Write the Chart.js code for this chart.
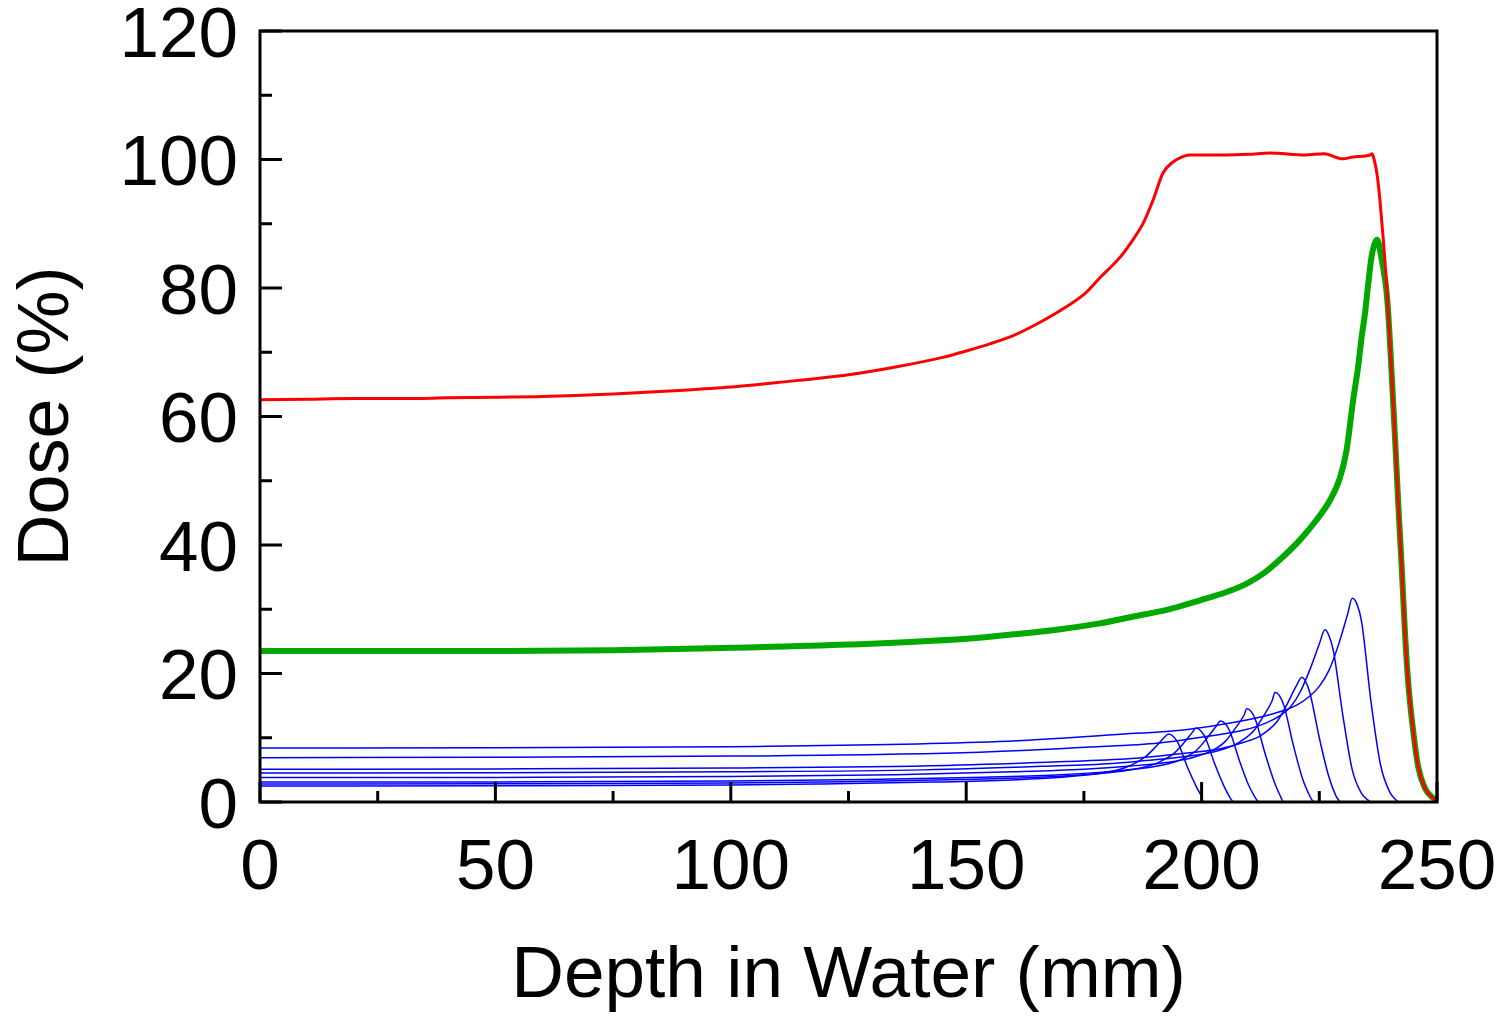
<!DOCTYPE html>
<html>
<head>
<meta charset="utf-8">
<script src="https://cdn.jsdelivr.net/npm/chart.js@4.4.1/dist/chart.umd.min.js"></script>
<style>
  html, body { margin: 0; padding: 0; background: #ffffff; }
  #wrap { width: 1511px; height: 1017px; }
</style>
</head>
<body>
<div id="wrap"><canvas id="c" width="1511" height="1017"></canvas></div>
<script>
// ---- axis ticks ----
const xTickValues = [0, 50, 100, 150, 200, 250];
const yTickValues = [0, 20, 40, 60, 80, 100, 120];
const xMinorTicks = [25, 75, 125, 175, 225];
const yMinorTicks = [10, 30, 50, 70, 90, 110];

// ---- SOBP (red) ----
const sobpDepth = [0, 10, 20, 30, 40, 50, 60, 75, 90, 100, 110, 125, 135, 145, 150, 155, 160, 165, 170, 175, 178.4, 182.7, 185.4, 187.6, 189.7, 191.8, 193.9, 195.5, 197.5, 205, 210, 214.5, 222, 226, 230, 232.2, 235.8, 236.2, 236.8, 237.3, 237.9, 238.6, 239.2, 239.7, 240.2, 240.7, 241.2, 241.8, 242.5, 243.2, 243.9, 245, 246, 247.4, 249.2, 250];
const sobpDose  = [62.6, 62.7, 62.8, 62.8, 62.9, 63.0, 63.1, 63.5, 64.1, 64.6, 65.3, 66.5, 67.7, 69.2, 70.2, 71.3, 72.6, 74.4, 76.5, 79.0, 81.6, 84.8, 87.5, 90.1, 93.7, 97.9, 99.6, 100.3, 100.7, 100.7, 100.8, 101.0, 100.7, 100.9, 100.1, 100.4, 100.7, 100.9, 99.5, 97.5, 93.5, 87.5, 81.5, 75.5, 69.0, 62.0, 55.0, 46.0, 36.6, 26.3, 18.5, 10.7, 5.5, 2.2, 0.6, 0.2];

// ---- Pristine peak (green) ----
const peakDepth = [0, 20, 50, 75, 100, 125, 150, 160, 170, 178.4, 185, 192.6, 199.7, 205, 209.6, 213, 216.6, 220.9, 224.4, 227.3, 229.4, 230.8, 232.2, 233.2, 234, 234.7, 235.4, 236.1, 236.7, 237.2, 237.6, 238.0, 238.6, 239.2, 239.7, 240.2, 240.7, 241.2, 241.8, 242.5, 243.2, 243.9, 245, 246, 247.4, 249.2, 250];
const peakDose  = [23.5, 23.5, 23.5, 23.6, 24.0, 24.5, 25.4, 26.1, 26.9, 27.8, 28.8, 29.9, 31.4, 32.6, 34.0, 35.5, 37.7, 40.8, 43.9, 47.0, 50.5, 54.8, 62.6, 67.5, 72.4, 76.0, 80.7, 84.9, 86.8, 87.5, 87.0, 85.5, 83.0, 80.0, 75.5, 69.0, 62.0, 55.0, 46.0, 36.6, 26.3, 18.5, 10.7, 5.5, 2.2, 0.6, 0.2];

// ---- Weighted pristine peaks (blue) ----
const blue1Depth = [0, 50, 100, 157, 182, 197, 207, 215, 220, 223, 225, 227, 229, 231, 232, 233, 234, 236, 238, 240, 241.7];
const blue1Dose  = [8.4, 8.45, 8.6, 9.4, 10.5, 11.3, 12.4, 13.7, 15.0, 16.5, 18.0, 20.4, 24.3, 29.2, 31.7, 30.8, 28.0, 15.5, 5.8, 1.5, 0];
const blue2Depth = [0, 50, 100, 151, 176, 191, 201, 209, 214, 217, 219, 221, 223, 225, 226.2, 227, 228, 230, 232, 234, 235.8];
const blue2Dose  = [6.9, 6.95, 7.15, 7.7, 8.55, 9.2, 10.2, 11.2, 12.4, 13.6, 14.9, 17.2, 20.6, 24.6, 26.8, 26.0, 23.5, 13.5, 5.0, 1.3, 0];
const blue3Depth = [0, 50, 100, 146, 171, 186, 196, 204, 209, 212, 214, 216, 218, 220, 221.3, 222, 223, 225, 227, 228.5, 229.4];
const blue3Dose  = [5.1, 5.15, 5.3, 5.7, 6.3, 6.8, 7.55, 8.3, 9.3, 10.1, 11.1, 12.5, 15.0, 17.9, 19.4, 18.9, 17.0, 10.0, 4.0, 1.0, 0];
const blue4Depth = [0, 50, 100, 141, 166, 181, 191, 199, 204, 207, 209, 211, 213, 215, 215.6, 216.5, 217.5, 219.5, 221.5, 223, 223.7];
const blue4Dose  = [4.5, 4.55, 4.7, 5.0, 5.55, 6.0, 6.65, 7.3, 8.1, 8.9, 9.8, 11.0, 13.2, 15.8, 17.1, 16.6, 15.0, 8.8, 3.5, 0.9, 0];
const blue5Depth = [0, 50, 100, 135, 160, 175, 185, 193, 198, 201, 203, 205, 207, 209, 209.6, 210.5, 211.5, 213.5, 215.5, 216.8, 217.3];
const blue5Dose  = [3.8, 3.83, 3.95, 4.25, 4.7, 5.1, 5.6, 6.2, 6.9, 7.6, 8.3, 9.4, 11.3, 13.5, 14.5, 14.1, 12.7, 7.5, 3.0, 0.8, 0];
const blue6Depth = [0, 50, 100, 129, 154, 169, 179, 187, 192, 195, 197, 199, 201, 203, 204, 205, 206, 208, 210, 211.4, 212];
const blue6Dose  = [3.1, 3.13, 3.25, 3.5, 3.85, 4.2, 4.65, 5.2, 5.8, 6.4, 7.1, 8.1, 9.8, 11.7, 12.6, 12.2, 11.0, 6.5, 2.6, 0.7, 0];
const blue7Depth = [0, 50, 100, 124, 149, 164, 174, 182, 187, 190, 192, 194, 196, 198, 198.8, 199.8, 200.8, 202.8, 204.8, 206.1, 206.7];
const blue7Dose  = [2.8, 2.83, 2.95, 3.15, 3.5, 3.8, 4.2, 4.7, 5.3, 5.9, 6.6, 7.5, 9.0, 10.8, 11.5, 11.1, 10.0, 5.9, 2.4, 0.6, 0];
const blue8Depth = [0, 50, 100, 118, 143, 158, 168, 176, 181, 184, 186, 188, 190, 192, 193, 194, 195, 197, 199, 200, 200.3];
const blue8Dose  = [2.5, 2.53, 2.65, 2.8, 3.1, 3.4, 3.75, 4.25, 4.8, 5.4, 6.1, 7.0, 8.4, 10.0, 10.6, 10.2, 9.2, 5.4, 2.2, 0.8, 0];

const blueDepths = [blue1Depth, blue2Depth, blue3Depth, blue4Depth, blue5Depth, blue6Depth, blue7Depth, blue8Depth];
const blueDoses  = [blue1Dose, blue2Dose, blue3Dose, blue4Dose, blue5Dose, blue6Dose, blue7Dose, blue8Dose];

function pts(xs, ys) { return xs.map((x, i) => ({ x: x, y: ys[i] })); }

const FONT = '"Liberation Sans", Arial, Helvetica, sans-serif';

const datasets = [
  { data: pts(sobpDepth, sobpDose), borderColor: '#ff0000', borderWidth: 3, order: 0 },
  { data: pts(peakDepth, peakDose), borderColor: '#00a800', borderWidth: 6, order: 1 }
];
blueDepths.forEach((d, i) => {
  datasets.push({ data: pts(d, blueDoses[i]), borderColor: '#0000ff', borderWidth: 1.5, order: 2 });
});
datasets.forEach(ds => {
  ds.pointRadius = 0;
  ds.fill = false;
  ds.cubicInterpolationMode = 'monotone';
});

const framePlugin = {
  id: 'frameAndTicks',
  afterDatasetsDraw(chart) {
    const { ctx, chartArea: a, scales: { x, y } } = chart;
    ctx.save();
    ctx.strokeStyle = '#000';
    ctx.lineWidth = 3;
    ctx.lineCap = 'butt';
    ctx.beginPath();
    xTickValues.forEach(v => { const px = x.getPixelForValue(v); ctx.moveTo(px, a.bottom); ctx.lineTo(px, a.bottom - 20); });
    xMinorTicks.forEach(v => { const px = x.getPixelForValue(v); ctx.moveTo(px, a.bottom); ctx.lineTo(px, a.bottom - 11); });
    yTickValues.forEach(v => { const py = y.getPixelForValue(v); ctx.moveTo(a.left, py); ctx.lineTo(a.left + 22, py); });
    yMinorTicks.forEach(v => { const py = y.getPixelForValue(v); ctx.moveTo(a.left, py); ctx.lineTo(a.left + 12, py); });
    ctx.stroke();
    ctx.strokeRect(a.left, a.top, a.right - a.left, a.bottom - a.top);
    ctx.restore();
  }
};

new Chart(document.getElementById('c'), {
  type: 'line',
  data: { datasets: datasets },
  options: {
    responsive: false,
    animation: false,
    devicePixelRatio: 1,
    layout: { padding: { left: 0, top: 31, right: 74, bottom: 0 } },
    plugins: { legend: { display: false }, tooltip: { enabled: false }, title: { display: false } },
    scales: {
      x: {
        type: 'linear', min: 0, max: 250,
        grid: { display: false, drawTicks: false },
        border: { display: false },
        afterBuildTicks: s => { s.ticks = xTickValues.map(v => ({ value: v })); },
        ticks: { color: '#000', padding: 39, maxRotation: 0, autoSkip: false,
                 font: { family: FONT, size: 71, lineHeight: 0.8 } },
        title: { display: true, text: 'Depth in Water (mm)', color: '#000',
                 font: { family: FONT, size: 73, lineHeight: 1.1 }, padding: { top: 0, bottom: 0 } },
        afterFit: s => { s.height = 215; s.paddingLeft = 0; s.paddingRight = 0; }
      },
      y: {
        type: 'linear', min: 0, max: 120,
        grid: { display: false, drawTicks: false },
        border: { display: false },
        afterBuildTicks: s => { s.ticks = yTickValues.map(v => ({ value: v })); },
        ticks: { color: '#000', padding: 22, autoSkip: false, labelOffset: 6,
                 font: { family: FONT, size: 71, lineHeight: 0.8 } },
        title: { display: true, text: 'Dose (%)', color: '#000',
                 font: { family: FONT, size: 72, lineHeight: 1.2 }, padding: { top: 5, bottom: 0 } },
        afterFit: s => { s.width = 260; s.paddingTop = 0; s.paddingBottom = 0; }
      }
    }
  },
  plugins: [framePlugin]
});
</script>
</body>
</html>
